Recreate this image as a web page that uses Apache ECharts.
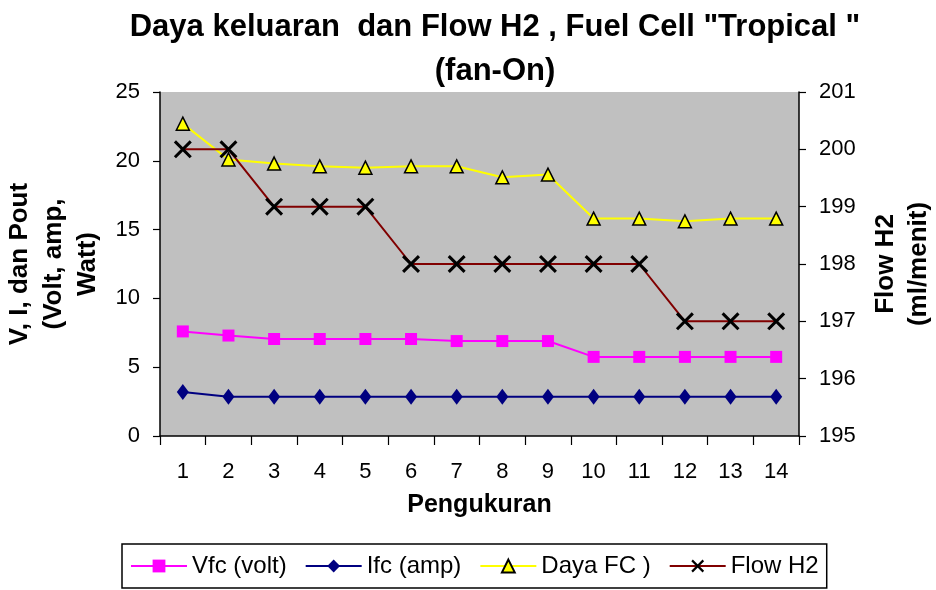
<!DOCTYPE html>
<html>
<head>
<meta charset="utf-8">
<script src="https://cdn.jsdelivr.net/npm/echarts@6/dist/echarts.min.js"></script>
<style>
  html, body { margin: 0; padding: 0; background: #fff; }
  #chart { width: 936px; height: 590px; }
</style>
</head>
<body>
<div id="chart"></div>
<script>
// data
var pengukuran = ['1','2','3','4','5','6','7','8','9','10','11','12','13','14'];
var vfc  = [7.6, 7.3, 7.05, 7.05, 7.05, 7.05, 6.9, 6.9, 6.9, 5.75, 5.75, 5.75, 5.75, 5.75];
var ifc  = [3.2, 2.85, 2.85, 2.85, 2.85, 2.85, 2.85, 2.85, 2.85, 2.85, 2.85, 2.85, 2.85, 2.85];
var daya = [22.7, 20.1, 19.8, 19.6, 19.5, 19.6, 19.6, 18.8, 19.0, 15.8, 15.8, 15.6, 15.8, 15.8];
var flow = [200, 200, 199, 199, 199, 198, 198, 198, 198, 198, 198, 197, 197, 197];

var fontFam = '"Liberation Sans", Arial, sans-serif';
var crossPath = 'path://M0,1.2L1.2,0L10,8.8L8.8,10Z M8.8,0L10,1.2L1.2,10L0,8.8Z';

var chart = echarts.init(document.getElementById('chart'));

var option = {
    animation: false,
    textStyle: { fontFamily: fontFam },
    title: {
        text: 'Daya keluaran  dan Flow H2 , Fuel Cell "Tropical "\n(fan-On)',
        left: 490,
        textAlign: 'center',
        top: 0,
        textStyle: { fontSize: 31, fontWeight: 'bold', color: '#000', lineHeight: 44, fontFamily: fontFam }
    },
    grid: { left: 160, right: 137, top: 92, bottom: 154, show: true, backgroundColor: '#c0c0c0', borderWidth: 0, outerBoundsMode: 'none' },
    legend: {
        bottom: 2,
        left: 122,
        itemWidth: 56,
        itemHeight: 16,
        itemGap: 18,
        padding: [10, 8, 10, 8],
        borderColor: '#000',
        borderWidth: 1.5,
        textStyle: { fontSize: 24, color: '#000', fontFamily: fontFam },
        data: ['Vfc (volt)', 'Ifc (amp)', 'Daya FC )', 'Flow H2']
    },
    xAxis: {
        type: 'category',
        data: pengukuran,
        boundaryGap: true,
        name: 'Pengukuran',
        nameLocation: 'middle',
        nameGap: 57,
        nameTextStyle: { fontSize: 25, fontWeight: 'bold', color: '#000' },
        axisLine: { lineStyle: { color: '#000', width: 1.5 } },
        axisTick: { show: true, length: 9, lineStyle: { color: '#000', width: 1.2 }, alignWithLabel: false },
        axisLabel: { fontSize: 22, color: '#000', margin: 25 },
        splitLine: { show: false }
    },
    yAxis: [
        {
            type: 'value',
            min: 0, max: 25, interval: 5,
            name: 'V, I, dan Pout\n(Volt, amp,\nWatt)',
            nameLocation: 'middle',
            nameRotate: 90,
            nameGap: 54,
            nameTextStyle: { fontSize: 26, fontWeight: 'bold', color: '#000', lineHeight: 34 },
            axisLine: { show: true, lineStyle: { color: '#000', width: 1.5 } },
            axisTick: { show: true, length: 7, lineStyle: { color: '#000', width: 1.2 } },
            axisLabel: { fontSize: 22, color: '#000', margin: 20 },
            splitLine: { show: false }
        },
        {
            type: 'value',
            min: 195, max: 201, interval: 1,
            name: 'Flow H2\n(ml/menit)',
            nameLocation: 'middle',
            nameRotate: 90,
            nameGap: 70,
            nameTextStyle: { fontSize: 26, fontWeight: 'bold', color: '#000', lineHeight: 33 },
            axisLine: { show: true, lineStyle: { color: '#000', width: 1.5 } },
            axisTick: { show: true, length: 7, lineStyle: { color: '#000', width: 1.2 } },
            axisLabel: { fontSize: 22, color: '#000', margin: 20 },
            splitLine: { show: false }
        }
    ],
    series: [
        {
            name: 'Vfc (volt)', type: 'line', yAxisIndex: 0, data: vfc,
            symbol: 'rect', symbolSize: 12,
            lineStyle: { color: '#ff00ff', width: 2 },
            itemStyle: { color: '#ff00ff' }
        },
        {
            name: 'Ifc (amp)', type: 'line', yAxisIndex: 0, data: ifc,
            symbol: 'diamond', symbolSize: [12, 16],
            lineStyle: { color: '#000080', width: 2 },
            itemStyle: { color: '#000080' }
        },
        {
            name: 'Daya FC )', type: 'line', yAxisIndex: 0, data: daya,
            symbol: 'triangle', symbolSize: 13,
            lineStyle: { color: '#ffff00', width: 2 },
            itemStyle: { color: '#ffff00', borderColor: '#000', borderWidth: 1.5 }
        },
        {
            name: 'Flow H2', type: 'line', yAxisIndex: 1, data: flow,
            symbol: crossPath, symbolSize: 18,
            lineStyle: { color: '#800000', width: 2 },
            itemStyle: { color: '#000' }
        }
    ]
};

chart.setOption(option);
window.onresize = function () { chart.resize(); };
</script>
</body>
</html>
